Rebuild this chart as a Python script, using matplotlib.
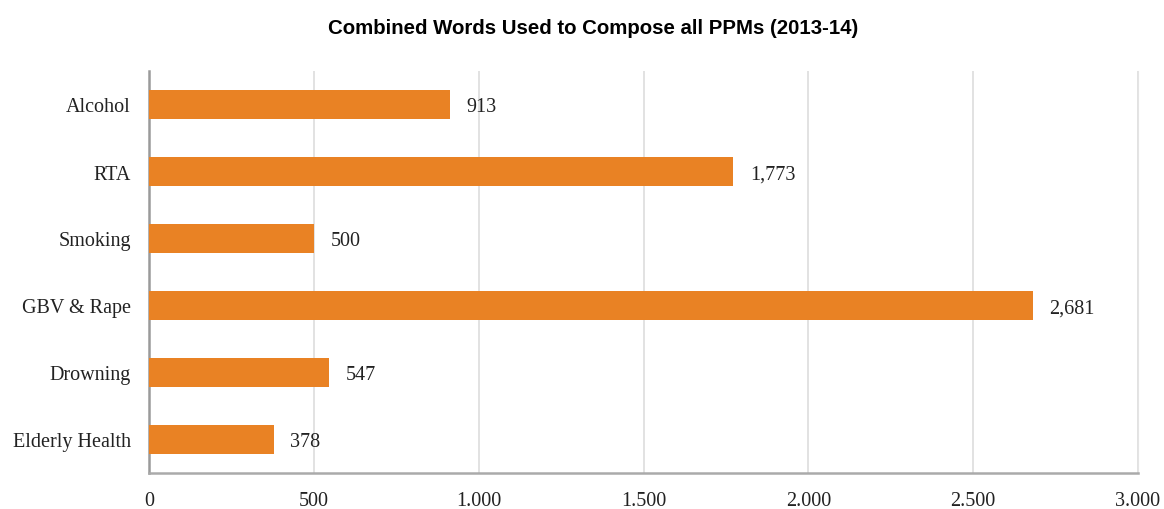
import matplotlib.pyplot as plt
from matplotlib.ticker import FuncFormatter

categories = ["Alcohol", "RTA", "Smoking", "GBV & Rape", "Drowning", "Elderly Health"]
words = [913, 1773, 500, 2681, 547, 378]
x_ticks = [0, 500, 1000, 1500, 2000, 2500, 3000]

serif = ["Liberation Serif", "DejaVu Serif"]
fs = 14.5

fig = plt.figure(figsize=(11.64, 5.10), dpi=100)
ax = fig.add_axes([149 / 1164, 1 - 474 / 510, (1138 - 149) / 1164, 402 / 510])

pos = list(range(len(categories)))
ax.barh(pos, words, height=0.42, color="#E98224", zorder=3)
for p, v in zip(pos, words):
    ax.annotate(f"{v:,}", (v, p), xytext=(12, -1.5), textcoords="offset points",
                va="center", ha="left", fontsize=fs, family=serif, color="#222222")

ax.set_ylim(len(categories) - 0.5, -0.5)
ax.set_yticks(pos)
ax.set_yticklabels(categories, family=serif, fontsize=fs, color="#222222")
ax.set_xlim(0, 3000)
ax.set_xticks(x_ticks)
ax.xaxis.set_major_formatter(FuncFormatter(lambda v, _: f"{int(v):,}".replace(",", ".")))
for lab in ax.get_xticklabels():
    lab.set_family(serif)
    lab.set_fontsize(fs)
    lab.set_color("#222222")
ax.tick_params(axis="both", length=0)
ax.tick_params(axis="x", pad=13)
ax.tick_params(axis="y", pad=13)

ax.grid(axis="x", color="#dddddd", linewidth=1.2, zorder=0)
ax.spines["top"].set_visible(False)
ax.spines["right"].set_color("#e4e4e4")
ax.spines["left"].set_color("#9a9a9a")
ax.spines["left"].set_linewidth(1.8)
ax.spines["bottom"].set_color("#aaaaaa")
ax.spines["bottom"].set_linewidth(1.8)

fig.text(593 / 1164, 1 - 28 / 510, "Combined Words Used to Compose all PPMs (2013-14)",
         ha="center", va="center", fontsize=14.7, fontweight="bold",
         family=["Liberation Sans", "DejaVu Sans"])

fig.savefig("out.png", dpi=100)
